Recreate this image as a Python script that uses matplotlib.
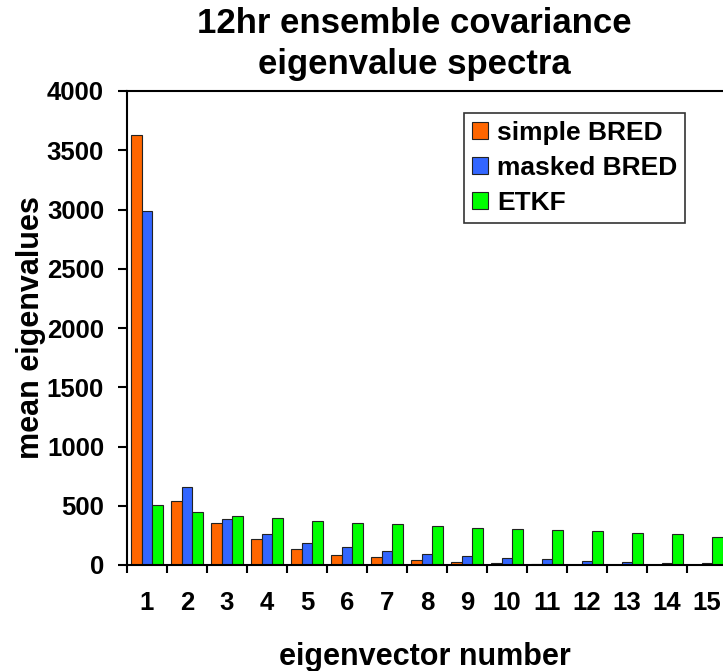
import matplotlib
matplotlib.use("Agg")
import matplotlib.pyplot as plt
import numpy as np

plt.rcParams['font.family'] = ['Liberation Sans', 'DejaVu Sans']
plt.rcParams['font.weight'] = 'bold'

categories = [str(i) for i in range(1, 16)]
simple_bred = [3627, 541, 356, 219, 132, 87, 65, 44, 27, 15, 6, 4, 2, 1, 0]
masked_bred = [2989, 659, 387, 258, 188, 149, 118, 97, 77, 63, 52, 35, 27, 20, 19]
etkf = [503, 444, 413, 396, 373, 356, 348, 330, 313, 307, 293, 285, 268, 263, 237]
series_names = ['simple BRED', 'masked BRED', 'ETKF']
series_colors = ['#FF6600', '#3366FF', '#00FF00']
yticks = [0, 500, 1000, 1500, 2000, 2500, 3000, 3500, 4000]

W, H = 723, 671
fig = plt.figure(figsize=(W / 100, H / 100), dpi=100)
ax = fig.add_axes([127 / W, 1 - 565 / H, 600 / W, (565 - 91) / H])

x = np.arange(1, len(categories) + 1)
bw = 0.8 / 3
for i, (vals, name, col) in enumerate(zip([simple_bred, masked_bred, etkf], series_names, series_colors)):
    ax.bar(x + (i - 1) * bw, vals, width=bw, color=col, edgecolor='#222222',
           linewidth=0.8, label=name)

ax.set_xlim(0.5, len(categories) + 0.5)
ax.set_ylim(0, 4000)
ax.set_yticks(yticks)
ax.set_yticklabels([str(v) for v in yticks], fontsize=18.5, fontweight='bold')

ax.set_xticks(np.arange(0.5, len(categories) + 1, 1.0))
ax.set_xticklabels([])
ax.set_xticks(x, minor=True)
ax.set_xticklabels(categories, minor=True, fontsize=18.5, fontweight='bold')
ax.tick_params(axis='x', which='major', direction='out', length=6, width=1.5)
ax.tick_params(axis='x', which='minor', length=0, pad=19)
ax.tick_params(axis='y', direction='out', length=6.5, width=1.5, pad=10)

for s in ['left', 'bottom', 'top', 'right']:
    ax.spines[s].set_linewidth(1.5)
    ax.spines[s].set_color('black')

leg = ax.legend(loc='upper left', bbox_to_anchor=((464 - 127) / 600, 1 - (113 - 91) / 474),
                prop={'size': 19, 'weight': 'bold'}, frameon=True, fancybox=False,
                handlelength=0.6, handleheight=0.6, handletextpad=0.35,
                labelspacing=0.42, borderpad=0.3, borderaxespad=0)
leg.get_frame().set_edgecolor('black')
leg.get_frame().set_linewidth(1.2)

fig.text(414 / W, 1 - 33 / H, '12hr ensemble covariance', ha='center', va='baseline',
         fontsize=25, fontweight='bold')
fig.text(414 / W, 1 - 74 / H, 'eigenvalue spectra', ha='center', va='baseline',
         fontsize=25, fontweight='bold')
fig.text(425 / W, 1 - 665 / H, 'eigenvector number', ha='center', va='baseline',
         fontsize=22, fontweight='bold')
fig.text(31.5 / W, 1 - 328 / H, 'mean eigenvalues', ha='center', va='center',
         rotation=90, fontsize=22, fontweight='bold')

fig.savefig('out.png', dpi=100)
